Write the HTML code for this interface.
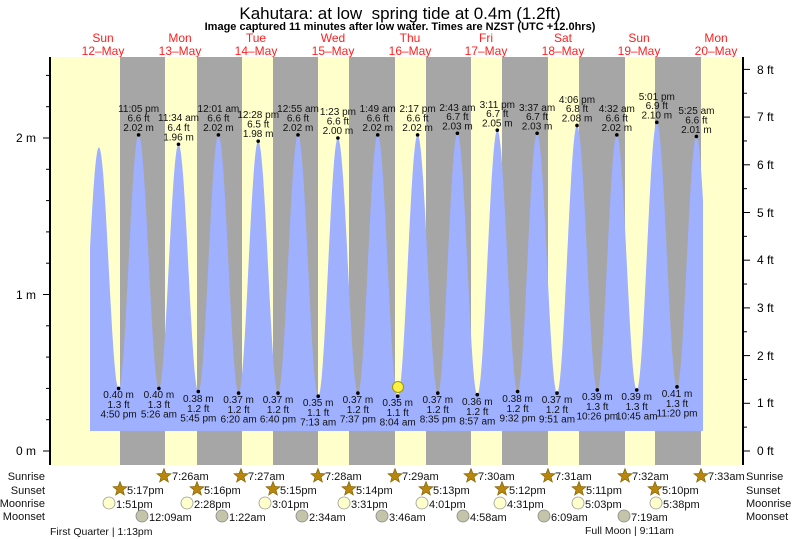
<!DOCTYPE html>
<html><head><meta charset="utf-8"><style>
body{margin:0;background:#fff;}
svg{display:block;font-family:"Liberation Sans",sans-serif;}
.t{font-size:10px;fill:#111;text-anchor:middle;}
.d{font-size:12px;fill:#ff2020;text-anchor:middle;}
.r{font-size:11px;fill:#111;}
.s{font-size:11px;fill:#111;}
</style></head><body>
<svg id="c" width="793" height="539" viewBox="0 0 793 539" xmlns="http://www.w3.org/2000/svg">
<rect x="0" y="0" width="793" height="539" fill="#fff"/>
<text x="400" y="19" font-size="17" text-anchor="middle" fill="#000" xml:space="preserve">Kahutara: at low&#160; spring tide at 0.4m (1.2ft)</text>
<text x="400" y="30" font-size="11" font-weight="bold" text-anchor="middle" fill="#000">Image captured 11 minutes after low water. Times are NZST (UTC +12.0hrs)</text>
<g>
<text class="d" x="103" y="42">Sun</text><text class="d" x="103" y="55">12–May</text>
<text class="d" x="180" y="42">Mon</text><text class="d" x="180" y="55">13–May</text>
<text class="d" x="256" y="42">Tue</text><text class="d" x="256" y="55">14–May</text>
<text class="d" x="333" y="42">Wed</text><text class="d" x="333" y="55">15–May</text>
<text class="d" x="410" y="42">Thu</text><text class="d" x="410" y="55">16–May</text>
<text class="d" x="486" y="42">Fri</text><text class="d" x="486" y="55">17–May</text>
<text class="d" x="563" y="42">Sat</text><text class="d" x="563" y="55">18–May</text>
<text class="d" x="639" y="42">Sun</text><text class="d" x="639" y="55">19–May</text>
<text class="d" x="716" y="42">Mon</text><text class="d" x="716" y="55">20–May</text>
</g>
<rect x="50" y="57" width="693" height="408" fill="#ffffcc"/>
<g fill="#a6a6a6">
<rect x="120" y="57" width="45" height="408"/><rect x="197" y="57" width="45" height="408"/>
<rect x="273" y="57" width="45" height="408"/><rect x="349" y="57" width="46" height="408"/>
<rect x="426" y="57" width="45" height="408"/><rect x="502" y="57" width="46" height="408"/>
<rect x="579" y="57" width="46" height="408"/><rect x="655" y="57" width="46" height="408"/>
</g>
<path id="tide" fill="#9eb0ff" d=""/>
<g stroke="#000" stroke-width="1">
<line x1="43" y1="451" x2="50" y2="451"/><line x1="43" y1="294.5" x2="50" y2="294.5"/><line x1="43" y1="138" x2="50" y2="138"/>
<line x1="46" y1="419.7" x2="50" y2="419.7"/><line x1="46" y1="388.4" x2="50" y2="388.4"/><line x1="46" y1="357.1" x2="50" y2="357.1"/><line x1="46" y1="325.8" x2="50" y2="325.8"/>
<line x1="46" y1="263.2" x2="50" y2="263.2"/><line x1="46" y1="231.9" x2="50" y2="231.9"/><line x1="46" y1="200.6" x2="50" y2="200.6"/><line x1="46" y1="169.3" x2="50" y2="169.3"/>
<line x1="46" y1="106.7" x2="50" y2="106.7"/><line x1="46" y1="75.4" x2="50" y2="75.4"/>
</g>
<g id="rt" stroke="#000" stroke-width="1"></g>
<line x1="50" y1="57" x2="50" y2="465" stroke="#000" stroke-width="2"/>
<line x1="743" y1="57" x2="743" y2="465" stroke="#000" stroke-width="2"/>
<g font-size="12" fill="#000" text-anchor="end">
<text x="36" y="455">0 m</text><text x="36" y="299">1 m</text><text x="36" y="142">2 m</text>
</g>
<g font-size="12" fill="#000">
<text x="757" y="455">0 ft</text><text x="757" y="407">1 ft</text><text x="757" y="360">2 ft</text><text x="757" y="312">3 ft</text>
<text x="757" y="264">4 ft</text><text x="757" y="217">5 ft</text><text x="757" y="169">6 ft</text><text x="757" y="121">7 ft</text><text x="757" y="74">8 ft</text>
</g>
<g id="dots" fill="#000"></g>
<g class="t">
<text x="138.6" y="112">11:05 pm</text><text x="138.6" y="121.5">6.6 ft</text><text x="138.6" y="131">2.02 m</text>
<text x="178.5" y="121">11:34 am</text><text x="178.5" y="131">6.4 ft</text><text x="178.5" y="140.5">1.96 m</text>
<text x="218.4" y="112">12:01 am</text><text x="218.4" y="121.5">6.6 ft</text><text x="218.4" y="131">2.02 m</text>
<text x="258.2" y="118">12:28 pm</text><text x="258.2" y="127.5">6.5 ft</text><text x="258.2" y="137">1.98 m</text>
<text x="298" y="112">12:55 am</text><text x="298" y="121.5">6.6 ft</text><text x="298" y="131">2.02 m</text>
<text x="337.9" y="115">1:23 pm</text><text x="337.9" y="124.5">6.6 ft</text><text x="337.9" y="134">2.00 m</text>
<text x="377.7" y="112">1:49 am</text><text x="377.7" y="121.5">6.6 ft</text><text x="377.7" y="131">2.02 m</text>
<text x="417.6" y="112">2:17 pm</text><text x="417.6" y="121.5">6.6 ft</text><text x="417.6" y="131">2.02 m</text>
<text x="457.4" y="111">2:43 am</text><text x="457.4" y="120">6.7 ft</text><text x="457.4" y="129.5">2.03 m</text>
<text x="497.3" y="108">3:11 pm</text><text x="497.3" y="117">6.7 ft</text><text x="497.3" y="126.5">2.05 m</text>
<text x="537.1" y="111">3:37 am</text><text x="537.1" y="120">6.7 ft</text><text x="537.1" y="129.5">2.03 m</text>
<text x="577" y="103">4:06 pm</text><text x="577" y="112">6.8 ft</text><text x="577" y="121.5">2.08 m</text>
<text x="616.8" y="112">4:32 am</text><text x="616.8" y="121.5">6.6 ft</text><text x="616.8" y="131">2.02 m</text>
<text x="656.8" y="100">5:01 pm</text><text x="656.8" y="109">6.9 ft</text><text x="656.8" y="118.5">2.10 m</text>
<text x="696.4" y="114">5:25 am</text><text x="696.4" y="123.5">6.6 ft</text><text x="696.4" y="133">2.01 m</text>

<text x="118.6" y="398">0.40 m</text><text x="118.6" y="408">1.3 ft</text><text x="118.6" y="417.5">4:50 pm</text>
<text x="158.9" y="398">0.40 m</text><text x="158.9" y="408">1.3 ft</text><text x="158.9" y="417.5">5:26 am</text>
<text x="198.3" y="402">0.38 m</text><text x="198.3" y="412">1.2 ft</text><text x="198.3" y="421.5">5:45 pm</text>
<text x="238.6" y="403">0.37 m</text><text x="238.6" y="413">1.2 ft</text><text x="238.6" y="422.5">6:20 am</text>
<text x="278" y="403">0.37 m</text><text x="278" y="413">1.2 ft</text><text x="278" y="422.5">6:40 pm</text>
<text x="318.2" y="406">0.35 m</text><text x="318.2" y="416">1.1 ft</text><text x="318.2" y="425.5">7:13 am</text>
<text x="357.9" y="403">0.37 m</text><text x="357.9" y="413">1.2 ft</text><text x="357.9" y="422.5">7:37 pm</text>
<text x="397.7" y="406">0.35 m</text><text x="397.7" y="416">1.1 ft</text><text x="397.7" y="425.5">8:04 am</text>
<text x="437.8" y="403">0.37 m</text><text x="437.8" y="413">1.2 ft</text><text x="437.8" y="422.5">8:35 pm</text>
<text x="477.3" y="405">0.36 m</text><text x="477.3" y="415">1.2 ft</text><text x="477.3" y="424.5">8:57 am</text>
<text x="517.6" y="402">0.38 m</text><text x="517.6" y="412">1.2 ft</text><text x="517.6" y="421.5">9:32 pm</text>
<text x="557" y="403">0.37 m</text><text x="557" y="413">1.2 ft</text><text x="557" y="422.5">9:51 am</text>
<text x="597.3" y="400">0.39 m</text><text x="597.3" y="410">1.3 ft</text><text x="597.3" y="419.5">10:26 pm</text>
<text x="636.7" y="400">0.39 m</text><text x="636.7" y="410">1.3 ft</text><text x="636.7" y="419.5">10:45 am</text>
<text x="677" y="397">0.41 m</text><text x="677" y="407">1.3 ft</text><text x="677" y="416.5">11:20 pm</text>
</g>
<circle cx="398" cy="387" r="5.5" fill="#ffee44" stroke="#999900" stroke-width="1"/>
<g class="r" text-anchor="end">
<text x="45" y="480">Sunrise</text><text x="45" y="494">Sunset</text><text x="45" y="507">Moonrise</text><text x="45" y="520">Moonset</text>
</g>
<g class="r">
<text x="746" y="480">Sunrise</text><text x="746" y="494">Sunset</text><text x="746" y="507">Moonrise</text><text x="746" y="520">Moonset</text>
</g>
<g id="stars"></g>
<g class="s">
<text x="172" y="480">7:26am</text><text x="248" y="480">7:27am</text><text x="325" y="480">7:28am</text><text x="402" y="480">7:29am</text>
<text x="478" y="480">7:30am</text><text x="555" y="480">7:31am</text><text x="632" y="480">7:32am</text><text x="708" y="480">7:33am</text>
<text x="127" y="494">5:17pm</text><text x="204" y="494">5:16pm</text><text x="280" y="494">5:15pm</text><text x="356" y="494">5:14pm</text>
<text x="433" y="494">5:13pm</text><text x="509" y="494">5:12pm</text><text x="586" y="494">5:11pm</text><text x="662" y="494">5:10pm</text>
<text x="116" y="508">1:51pm</text><text x="194" y="508">2:28pm</text><text x="272" y="508">3:01pm</text><text x="351" y="508">3:31pm</text>
<text x="429" y="508">4:01pm</text><text x="507" y="508">4:31pm</text><text x="585" y="508">5:03pm</text><text x="663" y="508">5:38pm</text>
<text x="149" y="521">12:09am</text><text x="229" y="521">1:22am</text><text x="309" y="521">2:34am</text><text x="389" y="521">3:46am</text>
<text x="470" y="521">4:58am</text><text x="551" y="521">6:09am</text><text x="631" y="521">7:19am</text>
<text x="50" y="535" font-size="10.5">First Quarter | 1:13pm</text>
<text x="585" y="534" font-size="10.5">Full Moon | 9:11am</text>
</g>
<g id="moons"></g>
</svg>
<script>
var ex=[[79,0.40],[98.9,1.94],[118.6,0.40],[138.6,2.02],[158.9,0.40],[178.5,1.96],[198.3,0.38],[218.4,2.02],[238.6,0.37],[258.2,1.98],[278,0.37],[298,2.02],[318.2,0.35],[337.9,2.00],[357.9,0.37],[377.7,2.02],[397.7,0.35],[417.6,2.02],[437.8,0.37],[457.4,2.03],[477.3,0.36],[497.3,2.05],[517.6,0.38],[537.1,2.03],[557,0.37],[577,2.08],[597.3,0.39],[616.8,2.02],[636.7,0.39],[656.8,2.10],[677,0.41],[696.4,2.01],[716,0.40]];
function Y(h){return 451-156.5*h;}
function hAt(x){for(var i=0;i<ex.length-1;i++){var a=ex[i],b=ex[i+1];if(x>=a[0]&&x<=b[0]){var f=(x-a[0])/(b[0]-a[0]);return a[1]+(b[1]-a[1])*(1-Math.cos(Math.PI*f))/2;}}return 0.4;}
var d="M90,431";for(var x=90;x<=703;x+=0.5){d+=" L"+x+","+Y(hAt(x)).toFixed(2);}d+=" L703,431 Z";
document.getElementById("tide").setAttribute("d",d);
var ns="http://www.w3.org/2000/svg";
function el(t,a,p){var e=document.createElementNS(ns,t);for(var k in a)e.setAttribute(k,a[k]);document.getElementById(p).appendChild(e);}
for(var i=2;i<ex.length-1;i++){el("circle",{cx:ex[i][0],cy:Y(ex[i][1]),r:1.8},"dots");}
for(var f=0;f<=16;f++){var y=451-f*0.5*47.7;el("line",{x1:743,y1:y,x2:f%2?747:750,y2:y},"rt");}
function star(cx,cy){var p=[];for(var k=0;k<10;k++){var r=k%2?3.2:7.5,a=-Math.PI/2+k*Math.PI/5;p.push((cx+r*Math.cos(a)).toFixed(1)+","+(cy+r*Math.sin(a)).toFixed(1));}el("polygon",{points:p.join(" "),fill:"#b8860b",stroke:"#7a5a00","stroke-width":0.6},"stars");}
[164,241,318,395,471,548,625,701].forEach(function(x){star(x,476);});
[120,197,273,349,426,502,579,655].forEach(function(x){star(x,489);});
[109,187,265,344,422,500,578,656].forEach(function(x){el("circle",{cx:x,cy:503,r:6,fill:"#ffffcc",stroke:"#999","stroke-width":0.8},"moons");});
[142,222,302,382,463,544,624].forEach(function(x){el("circle",{cx:x,cy:516,r:6,fill:"#c4c4aa",stroke:"#888","stroke-width":0.8},"moons");});
</script>
</body></html>
